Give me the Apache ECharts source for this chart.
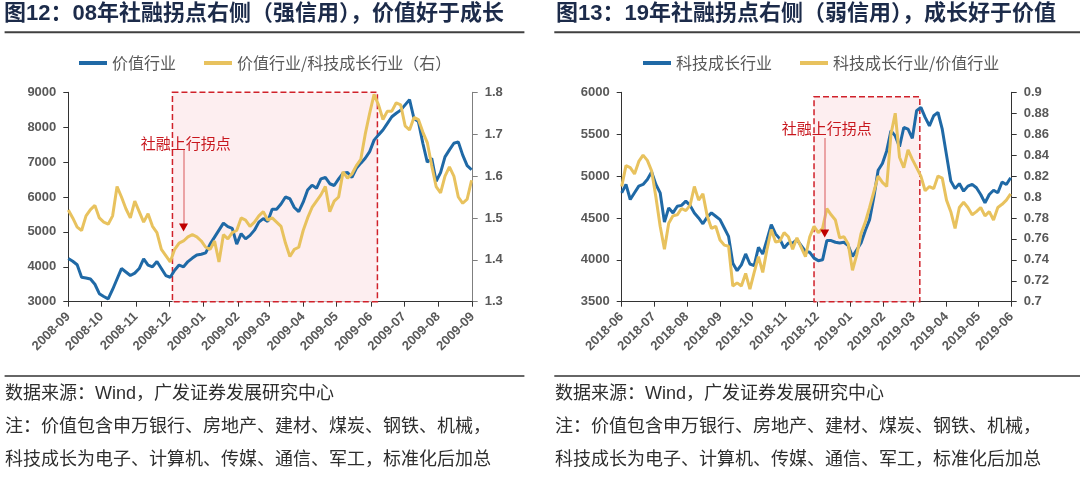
<!DOCTYPE html>
<html lang="zh-CN">
<head>
    <meta charset="UTF-8">
    <title>社融拐点 价值与成长</title>
    <script src="https://cdn.jsdelivr.net/npm/echarts@6/dist/echarts.min.js"></script>
    <style>
        body { margin: 0; background: #ffffff; }
        #chart { width: 1080px; height: 484px; }
    </style>
</head>
<body>
<div id="chart"></div>
<script>
    // 图12：2008-09 ~ 2009-09，每4天取一个点
    const leftDates = [
        '2008-09-01', '2008-09-05', '2008-09-09', '2008-09-13', '2008-09-17', '2008-09-21', '2008-09-25', '2008-09-29',
        '2008-10-03', '2008-10-07', '2008-10-11', '2008-10-15', '2008-10-19', '2008-10-23', '2008-10-27', '2008-10-31',
        '2008-11-04', '2008-11-08', '2008-11-12', '2008-11-16', '2008-11-20', '2008-11-24', '2008-11-28',
        '2008-12-02', '2008-12-06', '2008-12-10', '2008-12-14', '2008-12-18', '2008-12-22', '2008-12-26', '2008-12-30',
        '2009-01-03', '2009-01-07', '2009-01-11', '2009-01-15', '2009-01-19', '2009-01-23', '2009-01-27', '2009-01-31',
        '2009-02-04', '2009-02-08', '2009-02-12', '2009-02-16', '2009-02-20', '2009-02-24', '2009-02-28',
        '2009-03-04', '2009-03-08', '2009-03-12', '2009-03-16', '2009-03-20', '2009-03-24', '2009-03-28',
        '2009-04-01', '2009-04-05', '2009-04-09', '2009-04-13', '2009-04-17', '2009-04-21', '2009-04-25', '2009-04-29',
        '2009-05-03', '2009-05-07', '2009-05-11', '2009-05-15', '2009-05-19', '2009-05-23', '2009-05-27', '2009-05-31',
        '2009-06-04', '2009-06-08', '2009-06-12', '2009-06-16', '2009-06-20', '2009-06-24', '2009-06-28',
        '2009-07-02', '2009-07-06', '2009-07-10', '2009-07-14', '2009-07-18', '2009-07-22', '2009-07-26', '2009-07-30',
        '2009-08-03', '2009-08-07', '2009-08-11', '2009-08-15', '2009-08-19', '2009-08-23', '2009-08-27', '2009-08-31'
    ];
    const leftValue = [
        4240, 4160, 4060, 3700, 3680, 3650, 3500, 3230,
        3150, 3080, 3350, 3650, 3950, 3850, 3750, 3820,
        3950, 4230, 4050, 4000, 4150, 3950, 3750,
        3700, 3900, 4050, 4000, 4150, 4250, 4340, 4360,
        4400, 4650, 4850, 5050, 5250, 5150, 5100, 4650,
        4950, 4800, 4900, 5050, 5280, 5380, 5300,
        5650, 5650, 5800, 6000, 5950, 5700, 5580,
        5850, 6200, 6340, 6250, 6520, 6560, 6380, 6330,
        6520, 6680, 6700, 6560, 6820, 6970, 7110, 7300,
        7630, 7780, 7920, 8110, 8300, 8400, 8490,
        8640, 8790, 8250, 8160, 7540, 7000, 7110, 6450,
        6700, 7150, 7350, 7540, 7580, 7200, 6900, 6780
    ];
    const leftRatio = [
        1.519, 1.500, 1.478, 1.470, 1.505, 1.520, 1.530, 1.500,
        1.490, 1.485, 1.505, 1.575, 1.550, 1.522, 1.500, 1.540,
        1.515, 1.490, 1.510, 1.480, 1.465, 1.425, 1.410,
        1.395, 1.425, 1.440, 1.445, 1.455, 1.460, 1.455, 1.445,
        1.430, 1.425, 1.445, 1.395, 1.460, 1.450, 1.465, 1.470,
        1.500, 1.495, 1.480, 1.490, 1.505, 1.515, 1.495,
        1.500, 1.490, 1.480, 1.440, 1.408, 1.425, 1.430,
        1.470, 1.500, 1.525, 1.540, 1.555, 1.575, 1.515, 1.540,
        1.550, 1.610, 1.595, 1.605, 1.625, 1.640, 1.700, 1.750,
        1.795, 1.770, 1.735, 1.755, 1.755, 1.775, 1.770,
        1.720, 1.710, 1.740, 1.735, 1.705, 1.680, 1.625, 1.575,
        1.560, 1.600, 1.622, 1.600, 1.550, 1.535, 1.545, 1.590
    ];

    // 图13：2018-06 ~ 2019-06，每4天取一个点
    const rightDates = [
        '2018-06-01', '2018-06-05', '2018-06-09', '2018-06-13', '2018-06-17', '2018-06-21', '2018-06-25', '2018-06-29',
        '2018-07-03', '2018-07-07', '2018-07-11', '2018-07-15', '2018-07-19', '2018-07-23', '2018-07-27', '2018-07-31',
        '2018-08-04', '2018-08-08', '2018-08-12', '2018-08-16', '2018-08-20', '2018-08-24', '2018-08-28',
        '2018-09-01', '2018-09-05', '2018-09-09', '2018-09-13', '2018-09-17', '2018-09-21', '2018-09-25', '2018-09-29',
        '2018-10-03', '2018-10-07', '2018-10-11', '2018-10-15', '2018-10-19', '2018-10-23', '2018-10-27', '2018-10-31',
        '2018-11-04', '2018-11-08', '2018-11-12', '2018-11-16', '2018-11-20', '2018-11-24', '2018-11-28',
        '2018-12-02', '2018-12-06', '2018-12-10', '2018-12-14', '2018-12-18', '2018-12-22', '2018-12-26', '2018-12-30',
        '2019-01-03', '2019-01-07', '2019-01-11', '2019-01-15', '2019-01-19', '2019-01-23', '2019-01-27', '2019-01-31',
        '2019-02-04', '2019-02-08', '2019-02-12', '2019-02-16', '2019-02-20', '2019-02-24', '2019-02-28',
        '2019-03-04', '2019-03-08', '2019-03-12', '2019-03-16', '2019-03-20', '2019-03-24', '2019-03-28',
        '2019-04-01', '2019-04-05', '2019-04-09', '2019-04-13', '2019-04-17', '2019-04-21', '2019-04-25', '2019-04-29',
        '2019-05-03', '2019-05-07', '2019-05-11', '2019-05-15', '2019-05-19', '2019-05-23', '2019-05-27', '2019-05-31'
    ];
    const rightGrowth = [
        4800, 4900, 4720, 4800, 4880, 4900, 4960, 5050,
        4900, 4800, 4450, 4620, 4560, 4640, 4650, 4700,
        4650, 4560, 4500, 4430, 4510, 4560, 4520,
        4480, 4380, 4280, 3960, 3870, 3940, 4070, 3950,
        3930, 4150, 4070, 4240, 4420, 4310, 4250, 4140,
        4200, 4200, 4240, 4170, 4100, 4090, 4020,
        3990, 4000, 4230, 4230, 4210, 4200, 4210, 4170,
        4040, 4120, 4200, 4350, 4480, 4750, 5070, 5150,
        5300, 5540, 5480, 5350, 5580, 5560, 5450,
        5780, 5820, 5700, 5600, 5720, 5760, 5560,
        5250, 4940, 4850, 4910, 4820, 4880, 4900, 4860,
        4780, 4680, 4780, 4830, 4800, 4930, 4900, 4980
    ];
    const rightRatio = [
        0.810, 0.830, 0.828, 0.822, 0.834, 0.840, 0.835, 0.825,
        0.800, 0.772, 0.750, 0.775, 0.782, 0.783, 0.789, 0.787,
        0.792, 0.810, 0.797, 0.803, 0.782, 0.770, 0.772,
        0.759, 0.754, 0.753, 0.715, 0.718, 0.715, 0.727, 0.712,
        0.728, 0.743, 0.728, 0.750, 0.769, 0.757, 0.758, 0.766,
        0.762, 0.750, 0.761, 0.752, 0.743, 0.762, 0.772,
        0.766, 0.770, 0.789, 0.783, 0.778, 0.761, 0.762, 0.755,
        0.730, 0.745, 0.765, 0.776, 0.790, 0.805, 0.820, 0.814,
        0.810, 0.860, 0.880, 0.838, 0.828, 0.845, 0.836,
        0.828, 0.820, 0.806, 0.810, 0.808, 0.820, 0.818,
        0.797, 0.786, 0.770, 0.790, 0.795, 0.790, 0.783, 0.786,
        0.790, 0.782, 0.786, 0.778, 0.790, 0.793, 0.797, 0.803
    ];

    const BLUE = '#1f69a6';
    const GOLD = '#e8c25e';
    const RED = '#d0212a';
    const FONT = "'Liberation Sans', 'Noto Sans CJK SC', sans-serif";
    const CJK = "'Noto Sans CJK SC', sans-serif";

    const pairs = (dates, vals) => dates.map((d, i) => [d, vals[i]]);

    const tickLabel = { color: '#595959', fontWeight: 'bold', fontSize: 13, fontFamily: FONT };

    function timeAxis(gridIndex, min, max) {
        return {
            type: 'time', gridIndex: gridIndex, min: min, max: max,
            minInterval: 28 * 24 * 3600 * 1000,
            maxInterval: 31 * 24 * 3600 * 1000,
            splitLine: { show: false },
            axisLine: { lineStyle: { color: '#333', width: 1 } },
            axisTick: { show: true, length: 5, lineStyle: { color: '#333' } },
            axisLabel: Object.assign({ rotate: 45, margin: 13, formatter: '{yyyy}-{MM}',
                showMinLabel: true, showMaxLabel: true, hideOverlap: false }, tickLabel)
        };
    }

    function valueAxis(gridIndex, pos, min, max, interval, lineColor, fmt) {
        return {
            type: 'value', gridIndex: gridIndex, position: pos,
            min: min, max: max, interval: interval,
            splitLine: { show: false },
            axisLine: { show: true, lineStyle: { color: lineColor, width: 1 } },
            axisTick: { show: true, length: 5, lineStyle: { color: lineColor } },
            axisLabel: Object.assign({ margin: 12, formatter: fmt }, tickLabel)
        };
    }

    const trim = v => String(parseFloat(v.toFixed(2)));
    const plain = v => String(Math.round(v));

    function line(name, x, y, data, color) {
        return {
            name: name, type: 'line', xAxisIndex: x, yAxisIndex: y,
            data: data, showSymbol: false, symbol: 'none', z: 3,
            lineStyle: { color: color, width: 3 }, itemStyle: { color: color }
        };
    }

    // 阴影框 + 箭头 + 文字
    function marker(x, y, box, arrow) {
        return {
            type: 'line', xAxisIndex: x, yAxisIndex: y, data: [], z: 1, clip: false,
            markArea: {
                silent: true,
                itemStyle: { color: '#fdeef0', borderColor: RED, borderType: 'dashed', borderWidth: 1.5 },
                data: [[{ xAxis: box[0], yAxis: box[2] }, { xAxis: box[1], yAxis: box[3] }]]
            },
            markLine: {
                silent: true, symbol: 'none',
                lineStyle: { color: '#e48a8c', width: 1.5, type: 'solid' },
                label: { show: false },
                data: [[{ coord: [arrow.date, arrow.from] }, { coord: [arrow.date, arrow.head] }]]
            },
            markPoint: {
                silent: true,
                data: [
                    { coord: [arrow.date, arrow.head], symbol: 'triangle', symbolRotate: 180,
                      symbolSize: [9, 8], itemStyle: { color: '#c00000' }, label: { show: false } },
                    { coord: [arrow.textDate, arrow.textY], symbol: 'rect', symbolSize: [90, 18],
                      itemStyle: { color: 'rgba(0,0,0,0)' },
                      label: { show: true, position: 'inside', formatter: '社融上行拐点',
                               color: '#c8161d', fontSize: 15, fontFamily: CJK } }
                ]
            }
        };
    }

    const legendBase = {
        orient: 'horizontal', top: 55, padding: 0, icon: 'rect',
        itemWidth: 28, itemHeight: 4, itemGap: 28,
        textStyle: { color: '#595959', fontSize: 16, fontFamily: CJK }
    };

    const footer = (x, lines) => lines.map((t, i) => ({
        type: 'text', x: x, y: 394 + i * 33,
        style: { text: t, font: "18px 'Liberation Sans', 'Noto Sans CJK SC'", fill: '#2e2e2e', verticalAlign: 'middle' }
    }));
    const footLines = [
        '数据来源：Wind，广发证券发展研究中心',
        '注：价值包含申万银行、房地产、建材、煤炭、钢铁、机械，',
        '科技成长为电子、计算机、传媒、通信、军工，标准化后加总'
    ];

    const titleStyle = { fontSize: 22, fontWeight: 'bold', color: '#1c2b4a', fontFamily: FONT };

    const chart = echarts.init(document.getElementById('chart'), null, { renderer: 'canvas' });
    chart.setOption({
        animation: false,
        backgroundColor: '#ffffff',
        textStyle: { fontFamily: FONT },
        title: [
            { text: '图12：08年社融拐点右侧（强信用），价值好于成长', left: 4, top: 3, padding: 0, textStyle: titleStyle },
            { text: '图13：19年社融拐点右侧（弱信用），成长好于价值', left: 556, top: 3, padding: 0, textStyle: titleStyle }
        ],
        legend: [
            Object.assign({ left: 79, data: ['价值行业', '价值行业/科技成长行业（右）'] }, legendBase),
            Object.assign({ left: 643, data: ['科技成长行业', '科技成长行业/价值行业'] }, legendBase)
        ],
        grid: [
            { left: 68.3, top: 92.3, width: 404.4, height: 209.4 },
            { left: 621.7, top: 92.3, width: 390, height: 209.4 }
        ],
        xAxis: [
            timeAxis(0, '2008-09-01', '2009-09-01'),
            timeAxis(1, '2018-06-01', '2019-06-01')
        ],
        yAxis: [
            valueAxis(0, 'left', 3000, 9000, 1000, '#333', plain),
            valueAxis(0, 'right', 1.3, 1.8, 0.1, '#7f7f7f', trim),
            valueAxis(1, 'left', 3500, 6000, 500, '#333', plain),
            valueAxis(1, 'right', 0.7, 0.9, 0.02, '#333', trim)
        ],
        series: [
            marker(0, 0, ['2008-12-04', '2009-06-07', 9086, 2991],
                { date: '2008-12-14', from: 7347, head: 5127, textDate: '2008-12-16', textY: 7547 }),
            marker(1, 2, ['2018-11-28', '2019-03-07', 5947, 3496],
                { date: '2018-12-08', from: 5454, head: 4314, textDate: '2018-12-10', textY: 5570 }),
            line('价值行业', 0, 0, pairs(leftDates, leftValue), BLUE),
            line('价值行业/科技成长行业（右）', 0, 1, pairs(leftDates, leftRatio), GOLD),
            line('科技成长行业', 1, 2, pairs(rightDates, rightGrowth), BLUE),
            line('科技成长行业/价值行业', 1, 3, pairs(rightDates, rightRatio), GOLD)
        ],
        graphic: [
            { type: 'line', shape: { x1: 4.6, y1: 32.3, x2: 524.4, y2: 32.3 }, style: { stroke: '#404040', lineWidth: 2 } },
            { type: 'line', shape: { x1: 554.3, y1: 32.3, x2: 1080, y2: 32.3 }, style: { stroke: '#404040', lineWidth: 2 } },
            { type: 'line', shape: { x1: 4.6, y1: 376, x2: 524.4, y2: 376 }, style: { stroke: '#333', lineWidth: 1.5 } },
            { type: 'line', shape: { x1: 554.3, y1: 376, x2: 1080, y2: 376 }, style: { stroke: '#333', lineWidth: 1.5 } }
        ].concat(footer(5, footLines), footer(555, footLines))
    });
</script>
</body>
</html>
